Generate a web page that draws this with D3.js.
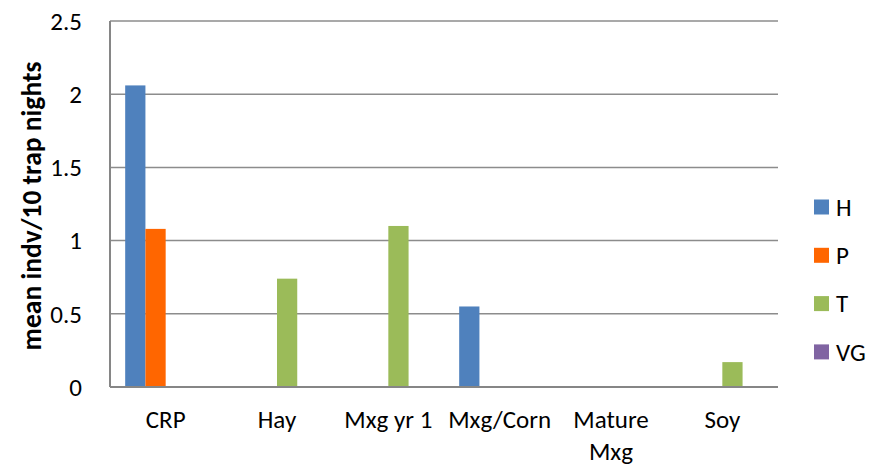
<!DOCTYPE html>
<html>
<head>
<meta charset="utf-8">
<script src="https://cdn.jsdelivr.net/npm/d3@7"></script>
<style>
  html, body { margin: 0; padding: 0; background: #fff; }
  svg { display: block; font-family: Carlito, Calibri, Lato, "Open Sans", sans-serif; }
</style>
</head>
<body>
<svg id="chart" width="879" height="467"></svg>
<script>
// Sites along the x axis (second element is a wrapped line)
const categories = [["CRP"], ["Hay"], ["Mxg yr 1"], ["Mxg/Corn"], ["Mature", "Mxg"], ["Soy"]];
const seriesNames = ["H", "P", "T", "VG"];
const seriesColors = ["#4F81BD", "#FF6600", "#9BBB59", "#8064A2"];
// Mean individuals per 10 trap nights, per series, per site
const H  = [2.06, 0, 0, 0.55, 0, 0];
const P  = [1.08, 0, 0, 0, 0, 0];
const T  = [0, 0.74, 1.10, 0, 0, 0.17];
const VG = [0, 0, 0, 0, 0, 0];
const yTicks = [0, 0.5, 1, 1.5, 2, 2.5];
const yTickLabels = ["0", "0.5", "1", "1.5", "2", "2.5"];

const seriesValues = [H, P, T, VG];

const svg = d3.select("#chart");
const margin = { left: 110, right: 101, top: 21, bottom: 80 };
const W = 879, Hh = 467;
const plotW = W - margin.left - margin.right;
const plotH = Hh - margin.top - margin.bottom;
const fontSize = 25;

const g = svg.append("g").attr("transform", `translate(${margin.left},${margin.top})`);

// one band per site, one sub-band per series with a 150% gap split at both ends
const x0 = d3.scaleBand().domain(d3.range(categories.length)).range([0, plotW]);
const x1 = d3.scaleBand().domain(d3.range(seriesNames.length))
  .range([0, x0.bandwidth()]).paddingInner(0).paddingOuter(0.75);
const y = d3.scaleLinear().domain([0, 2.5]).range([plotH, 0]);

// gridlines
g.append("g")
  .selectAll("line")
  .data(yTicks.filter(t => t > 0))
  .join("line")
  .attr("x1", 0).attr("x2", plotW)
  .attr("y1", d => y(d)).attr("y2", d => y(d))
  .attr("stroke", "#8c8c8c").attr("stroke-width", 1.5);

// bars
const rows = [];
categories.forEach((c, ci) => seriesValues.forEach((vals, si) => {
  if (vals[ci] > 0) rows.push({ ci, si, v: vals[ci] });
}));
g.append("g").selectAll("rect")
  .data(rows)
  .join("rect")
  .attr("x", d => x0(d.ci) + x1(d.si))
  .attr("width", x1.bandwidth())
  .attr("y", d => y(d.v))
  .attr("height", d => y(0) - y(d.v))
  .attr("fill", d => seriesColors[d.si]);

// axis lines
g.append("line").attr("x1", 0).attr("x2", 0).attr("y1", 0).attr("y2", plotH)
  .attr("stroke", "#868686").attr("stroke-width", 2);
g.append("line").attr("x1", 0).attr("x2", plotW).attr("y1", plotH).attr("y2", plotH)
  .attr("stroke", "#868686").attr("stroke-width", 2);

// y tick labels
g.append("g").selectAll("text")
  .data(yTicks)
  .join("text")
  .attr("x", -28)
  .attr("y", d => y(d))
  .attr("dy", "0.35em")
  .attr("text-anchor", "end")
  .attr("font-size", fontSize)
  .attr("fill", "#000")
  .text((d, i) => yTickLabels[i]);

// x labels
const xl = g.append("g");
categories.forEach((lines, ci) => {
  const cx = x0(ci) + x0.bandwidth() / 2;
  const t = xl.append("text")
    .attr("x", cx)
    .attr("y", plotH + 41)
    .attr("text-anchor", "middle")
    .attr("font-size", fontSize)
    .attr("fill", "#000");
  lines.forEach((ln, li) => {
    t.append("tspan").attr("x", cx).attr("dy", li === 0 ? 0 : 32).text(ln);
  });
});

// y axis title
svg.append("text")
  .attr("transform", `translate(41,${margin.top + plotH / 2 + 2}) rotate(-90)`)
  .attr("text-anchor", "middle")
  .attr("font-size", 27.5)
  .attr("font-weight", "bold")
  .attr("fill", "#000")
  .text("mean indv/10 trap nights");

// legend
const leg = svg.append("g").attr("transform", "translate(814,207)");
seriesNames.forEach((name, i) => {
  const row = leg.append("g").attr("transform", `translate(0,${i * 48.3})`);
  row.append("rect").attr("x", 0).attr("y", -7.5).attr("width", 15).attr("height", 15).attr("fill", seriesColors[i]);
  row.append("text").attr("x", 22).attr("y", 0).attr("dy", "0.35em")
    .attr("font-size", fontSize).attr("fill", "#000").text(name);
});
</script>
</body>
</html>
